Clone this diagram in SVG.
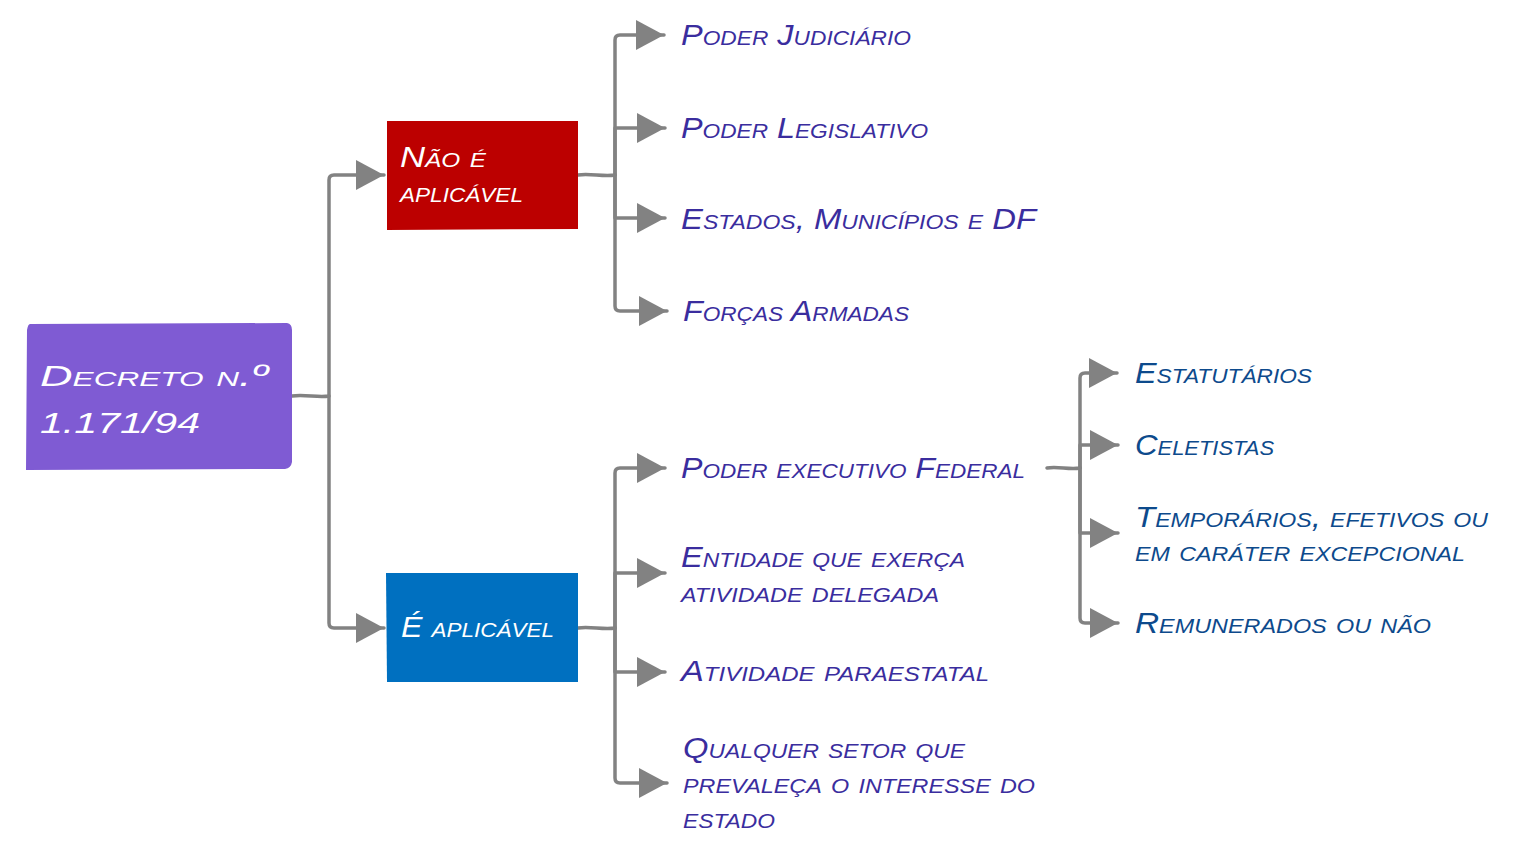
<svg xmlns="http://www.w3.org/2000/svg" width="1516" height="855" viewBox="0 0 1516 855">
<defs>
<style>
.c{fill:none;stroke:#828282;stroke-width:3.5;stroke-linecap:round;stroke-linejoin:round}
.t{font-family:"Liberation Sans",Arial,sans-serif;font-style:italic;font-variant:small-caps;font-size:30px}
.w{fill:#ffffff}
.p{fill:#3a2d9e}
.b{fill:#0d4a8c}
</style>
<marker id="ah" markerUnits="userSpaceOnUse" markerWidth="32" markerHeight="34" refX="30" refY="16" orient="auto">
<path d="M2,1 L30,16 L2,31 Z" fill="#828282"/>
</marker>
</defs>
<g id="connectors">
<path class="c" d="M292,396 C305,394 318,398 329,396 M329,396 L329,180 Q329,175 334,175 L384,175" marker-end="url(#ah)"/>
<path class="c" d="M329,396 L329,623 Q329,628 334,628 L384,628" marker-end="url(#ah)"/>
<path class="c" d="M578,175 C590,173 603,177 615,175 M615,175 L615,40 Q615,35 620,35 L664,35" marker-end="url(#ah)"/>
<path class="c" d="M615,175 L615,128 L665,128" marker-end="url(#ah)"/>
<path class="c" d="M615,175 L615,218 L665,218" marker-end="url(#ah)"/>
<path class="c" d="M615,175 L615,306 Q615,311 620,311 L667,311" marker-end="url(#ah)"/>
<path class="c" d="M578,628 C590,626 603,630 615,628 M615,628 L615,473 Q615,468 620,468 L665,468" marker-end="url(#ah)"/>
<path class="c" d="M615,628 L615,573 L665,573" marker-end="url(#ah)"/>
<path class="c" d="M615,628 L615,672 L665,672" marker-end="url(#ah)"/>
<path class="c" d="M615,628 L615,778 Q615,783 620,783 L667,783" marker-end="url(#ah)"/>
<path class="c" d="M1047,468 C1058,466 1069,470 1080,468 M1080,468 L1080,378 Q1080,373 1085,373 L1117,373" marker-end="url(#ah)"/>
<path class="c" d="M1080,468 L1080,445 L1118,445" marker-end="url(#ah)"/>
<path class="c" d="M1080,468 L1080,533 L1118,533" marker-end="url(#ah)"/>
<path class="c" d="M1080,468 L1080,618 Q1080,623 1085,623 L1118,623" marker-end="url(#ah)"/>
</g>
<g id="root">
<path d="M30,324 L287,323 Q292,324 292,330 L292,462 Q291,468 285,469 L26,470 L27,330 Q28,324 30,324 Z" fill="#7f5bd3"/>
<text class="t w" x="40" y="386" font-size="40" textLength="228" lengthAdjust="spacingAndGlyphs">Decreto n.º</text>
<text class="t w" x="40" y="433" font-size="40" textLength="160" lengthAdjust="spacingAndGlyphs">1.171/94</text>
</g>
<g id="nao-aplicavel">
<path d="M387,121 L578,121 L578,229 L387,230 Z" fill="#bc0000"/>
<text class="t w" x="400" y="167" font-size="28" textLength="86" lengthAdjust="spacingAndGlyphs">Não é</text>
<text class="t w" x="400" y="202" font-size="28" textLength="123" lengthAdjust="spacingAndGlyphs">aplicável</text>
</g>
<g id="aplicavel">
<path d="M386,573 L578,573 L578,682 L387,682 Z" fill="#0070c0"/>
<text class="t w" x="401" y="637" font-size="28" textLength="153" lengthAdjust="spacingAndGlyphs">É aplicável</text>
</g>
<g id="n-judiciario"><text class="t p" x="681" y="45" textLength="230" lengthAdjust="spacingAndGlyphs">Poder Judiciário</text></g>
<g id="n-legislativo"><text class="t p" x="681" y="138" textLength="247" lengthAdjust="spacingAndGlyphs">Poder Legislativo</text></g>
<g id="n-estados"><text class="t p" x="681" y="229" textLength="355" lengthAdjust="spacingAndGlyphs">Estados, Municípios e DF</text></g>
<g id="n-forcas"><text class="t p" x="683" y="321" textLength="226" lengthAdjust="spacingAndGlyphs">Forças Armadas</text></g>
<g id="n-executivo"><text class="t p" x="681" y="478" textLength="344" lengthAdjust="spacingAndGlyphs">Poder executivo Federal</text></g>
<g id="n-entidade">
<text class="t p" x="681" y="567" textLength="284" lengthAdjust="spacingAndGlyphs">Entidade que exerça</text>
<text class="t p" x="681" y="602" textLength="258" lengthAdjust="spacingAndGlyphs">atividade delegada</text>
</g>
<g id="n-paraestatal"><text class="t p" x="681" y="681" textLength="308" lengthAdjust="spacingAndGlyphs">Atividade paraestatal</text></g>
<g id="n-qualquer">
<text class="t p" x="683" y="758" textLength="282" lengthAdjust="spacingAndGlyphs">Qualquer setor que</text>
<text class="t p" x="683" y="793" textLength="352" lengthAdjust="spacingAndGlyphs">prevaleça o interesse do</text>
<text class="t p" x="683" y="828" textLength="92" lengthAdjust="spacingAndGlyphs">estado</text>
</g>
<g id="n-estatutarios"><text class="t b" x="1135" y="383" textLength="177" lengthAdjust="spacingAndGlyphs">Estatutários</text></g>
<g id="n-celetistas"><text class="t b" x="1135" y="455" textLength="139" lengthAdjust="spacingAndGlyphs">Celetistas</text></g>
<g id="n-temporarios">
<text class="t b" x="1135" y="527" textLength="353" lengthAdjust="spacingAndGlyphs">Temporários, efetivos ou</text>
<text class="t b" x="1135" y="561" textLength="330" lengthAdjust="spacingAndGlyphs">em caráter excepcional</text>
</g>
<g id="n-remunerados"><text class="t b" x="1135" y="633" textLength="296" lengthAdjust="spacingAndGlyphs">Remunerados ou não</text></g>
</svg>
